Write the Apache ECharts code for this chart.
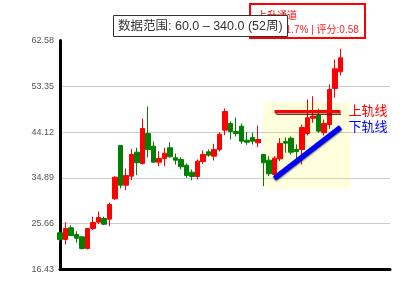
<!DOCTYPE html>
<html><head><meta charset="utf-8">
<script src="https://cdn.jsdelivr.net/npm/echarts@6/dist/echarts.min.js"></script>
<style>html,body{margin:0;padding:0;background:#fff}#c{width:400px;height:300px}</style>
</head><body><div id="c"></div>
<script>
const weeks = [0,1,2,3,4,5,6,7,8,9,10,11,12,13,14,15,16,17,18,19,20,21,22,23,24,25,
  26,27,28,29,30,31,32,33,34,35,36,37,38,39,40,41,42,43,44,45,46,47,48,49,50,51];
const openP = [23.83,22.48,24.84,23.49,23.02,20.67,24.70,25.97,26.71,26.57,30.68,41.42,33.42,35.24,40.07,37.80,43.84,41.28,38.06,38.80,40.96,38.94,38.60,37.45,36.04,35.17,
  38.20,40.15,39.27,40.62,44.51,45.86,44.24,45.31,42.49,43.04,41.97,39.61,38.46,35.58,38.74,42.23,42.89,40.62,40.62,43.84,46.92,47.47,43.98,45.65,52.91,56.27];
const closeP = [22.48,24.70,23.29,22.74,20.67,24.70,25.91,26.91,25.56,29.53,35.03,33.42,35.38,39.61,37.94,44.85,40.62,38.06,38.80,39.87,39.15,38.46,37.13,35.38,35.17,38.26,
  39.61,39.47,40.62,43.70,48.27,44.24,43.84,42.29,42.09,42.29,42.63,37.94,35.72,38.87,41.83,41.89,40.07,40.21,45.05,47.00,47.33,44.31,45.86,52.71,56.88,59.09];
const lowP = [22.08,21.47,23.19,21.82,20.47,20.47,24.36,25.56,25.36,25.16,30.48,32.76,32.40,34.43,35.44,37.59,39.00,38.00,37.25,37.25,39.00,37.59,36.59,34.92,34.43,34.57,
  37.74,39.15,38.40,40.21,43.50,42.63,43.24,41.76,41.56,41.62,41.08,33.22,35.24,35.12,38.26,39.95,39.61,38.74,37.59,43.44,46.00,43.98,43.44,44.79,51.03,55.53];
const highP = [24.10,25.97,25.30,24.15,23.09,24.84,27.06,28.12,27.06,29.88,35.17,41.42,36.79,40.72,40.96,46.86,49.28,42.23,40.27,40.96,42.09,39.81,39.06,37.80,36.59,38.60,
  40.42,40.62,41.76,44.10,48.88,46.26,47.06,45.86,44.10,44.04,45.45,39.61,39.27,39.27,42.89,43.04,43.24,41.62,45.65,50.69,51.36,48.82,46.66,53.71,58.75,60.91];
const yTicks = [16.43, 25.66, 34.89, 44.12, 53.35, 62.58];
const upperRail = [[39, 48.27], [51, 48.27]];
const lowerRail = [[39, 34.81], [51, 45.09]];
const zoneX = [36.9, 52.8];
const zoneY = [32.65, 50.25];

const FONT = "'Liberation Sans', 'Noto Sans CJK SC', sans-serif";
const chart = echarts.init(document.getElementById('c'), null, {renderer: 'canvas'});
chart.setOption({
  animation: false,
  backgroundColor: '#fff',
  title: [
    {
      text: '上升通道', subtext: '斜率:+1.7% | 评分:0.58',
      left: 250, top: 4, padding: [7, 6, 3, 7], itemGap: 4,
      borderColor: '#ff0000', borderWidth: 2,
      textStyle: {color: '#ff0000', fontSize: 10, fontWeight: 'normal', fontFamily: FONT},
      subtextStyle: {color: '#ff2020', fontSize: 10, fontFamily: FONT},
      z: 6
    },
    {
      text: '数据范围: 60.0 – 340.0 (52周)',
      left: 113, top: 15, padding: [5, 5, 4, 5],
      backgroundColor: '#fff', borderColor: '#333', borderWidth: 1,
      textStyle: {color: '#333', fontSize: 12.5, fontWeight: 'normal', fontFamily: FONT},
      z: 7
    }
  ],
  grid: {left: 60, right: 10, top: 40.5, bottom: 30.5, containLabel: false},
  xAxis: {
    type: 'value', min: 0, max: 60,
    axisLine: {show: true, onZero: false, lineStyle: {color: '#000', width: 3}},
    axisTick: {show: false}, axisLabel: {show: false}, splitLine: {show: false}
  },
  yAxis: {
    type: 'value', min: yTicks[0], max: yTicks[yTicks.length - 1],
    axisLine: {show: true, onZero: false, lineStyle: {color: '#000', width: 3}},
    axisTick: {show: false, customValues: yTicks},
    axisLabel: {customValues: yTicks, formatter: v => v.toFixed(2), color: '#555', fontSize: 9, fontFamily: FONT, margin: 6},
    splitLine: {show: true, showMinLine: false, showMaxLine: false, lineStyle: {color: '#ccc', width: 1}}
  },
  series: [
    {
      type: 'candlestick',
      data: weeks.map(i => [i, openP[i], closeP[i], lowP[i], highP[i]]),
      barWidth: 5,
      clip: false,
      itemStyle: {color: '#ff0000', color0: '#008000', borderColor: '#ff0000', borderColor0: '#008000', borderWidth: 1},
      markArea: {
        silent: true,
        itemStyle: {color: 'rgba(255,255,0,0.13)'},
        data: [[{coord: [zoneX[0], zoneY[1]]}, {coord: [zoneX[1], zoneY[0]]}]]
      }
    },
    {
      type: 'line', data: upperRail, symbol: 'none', silent: true,
      lineStyle: {color: '#ff0000', width: 3, shadowColor: 'rgba(60,0,0,0.8)', shadowBlur: 1, shadowOffsetY: 2},
      endLabel: {show: true, formatter: '上轨线', color: '#ff0000', fontSize: 13, fontFamily: FONT, distance: 8}
    },
    {
      type: 'line', data: lowerRail, symbol: 'none', silent: true,
      lineStyle: {color: '#0000ff', width: 5, shadowColor: 'rgba(0,0,60,0.9)', shadowBlur: 2, shadowOffsetY: 1},
      endLabel: {show: true, formatter: '下轨线', color: '#0000ff', fontSize: 13, fontFamily: FONT, distance: 8}
    }
  ]
});
</script></body></html>
